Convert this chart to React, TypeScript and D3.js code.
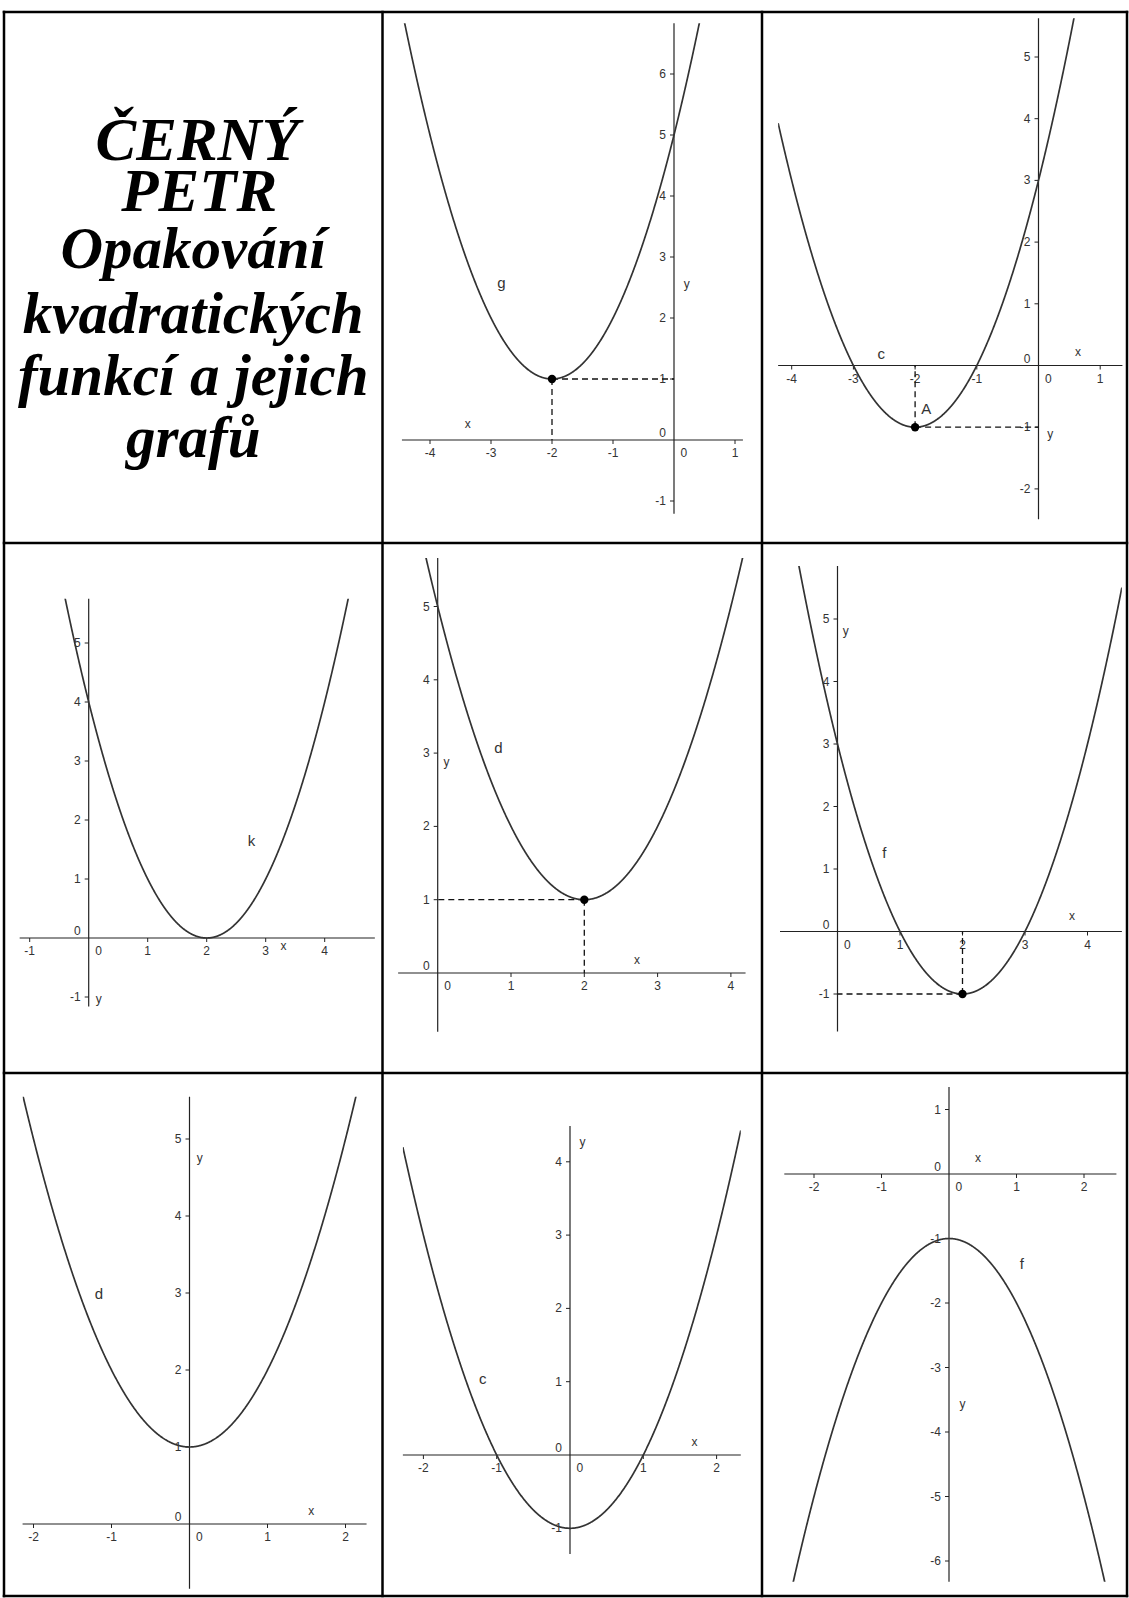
import React from 'react';
import * as d3 from 'd3';

// ---------- data ----------
const titleLines = ['ČERNÝ', 'PETR', 'Opakování', 'kvadratických', 'funkcí a jejich', 'grafů'];

// panels in reading order (row 1: cells 2,3; row 2; row 3)
const curveNames = ['g', 'c', 'k', 'd', 'f', 'd', 'c', 'f'];
const coefA = [1, 1, 1, 1, 1, 1, 1, -1];
const coefB = [4, 4, -4, -4, -4, 0, 0, 0];
const coefC = [5, 3, 4, 5, 3, 1, -1, -1];
const xTickValues = [
  [-4, -3, -2, -1, 1],
  [-4, -3, -2, -1, 1],
  [-1, 1, 2, 3, 4],
  [1, 2, 3, 4],
  [1, 2, 3, 4],
  [-2, -1, 1, 2],
  [-2, -1, 1, 2],
  [-2, -1, 1, 2],
];
const yTickValues = [
  [-1, 1, 2, 3, 4, 5, 6],
  [-2, -1, 1, 2, 3, 4, 5],
  [-1, 1, 2, 3, 4, 5],
  [1, 2, 3, 4, 5],
  [-1, 1, 2, 3, 4, 5],
  [1, 2, 3, 4, 5],
  [-1, 1, 2, 3, 4],
  [-6, -5, -4, -3, -2, -1, 1],
];
const vertexMarked = [true, true, false, true, true, false, false, false];
const pointNames = ['', 'A', '', '', '', '', '', ''];

// ---------- layout (pixels / view windows) ----------
const W = 1129;
const H = 1598;
const gridX = [4, 382.5, 762, 1127];
const gridY = [12, 543, 1073, 1596];
const titleBaselines = [160, 211, 268, 333, 395, 457];
const titleSizes = [61, 61, 59, 59, 59, 59];
const titleShift = [4, 6, 0, 0, 0, 0];

const layout = [
  { ox: 674, oy: 440, sx: 61, sy: 61, xmin: -4.46, xmax: 1.13, ymin: -1.21, ymax: 6.83,
    cl: [-2.83, 2.49], xl: [-3.38, 0.2], yl: [0.21, 2.49], pl: [0.13, 0.2] },
  { ox: 1038.5, oy: 365.5, sx: 61.7, sy: 61.7, xmin: -4.22, xmax: 1.36, ymin: -2.49, ymax: 5.63,
    cl: [-2.55, 0.1], xl: [0.64, 0.15], yl: [0.19, -1.17], pl: [0.1, 0.22] },
  { ox: 88.7, oy: 938, sx: 59, sy: 59, xmin: -1.17, xmax: 4.85, ymin: -1.16, ymax: 5.75,
    cl: [2.76, 1.56], xl: [3.3, -0.2], yl: [0.17, -1.1], pl: [0, 0] },
  { ox: 437.7, oy: 973, sx: 73.3, sy: 73.3, xmin: -0.54, xmax: 4.2, ymin: -0.8, ymax: 5.66,
    cl: [0.83, 3.0], xl: [2.72, 0.12], yl: [0.12, 2.83], pl: [0, 0] },
  { ox: 837.5, oy: 931.5, sx: 62.5, sy: 62.5, xmin: -0.92, xmax: 4.55, ymin: -1.6, ymax: 5.85,
    cl: [0.75, 1.18], xl: [3.75, 0.18], yl: [0.13, 4.75], pl: [0, 0] },
  { ox: 189.5, oy: 1524, sx: 78, sy: 77, xmin: -2.14, xmax: 2.27, ymin: -0.84, ymax: 5.55,
    cl: [-1.16, 2.92], xl: [1.56, 0.12], yl: [0.13, 4.7], pl: [0, 0] },
  { ox: 570, oy: 1455, sx: 73.3, sy: 73.3, xmin: -2.28, xmax: 2.33, ymin: -1.35, ymax: 4.49,
    cl: [-1.19, 0.97], xl: [1.7, 0.12], yl: [0.17, 4.22], pl: [0, 0] },
  { ox: 949, oy: 1174, sx: 67.5, sy: 64.5, xmin: -2.44, xmax: 2.48, ymin: -6.32, ymax: 1.35,
    cl: [1.08, -1.48], xl: [0.43, 0.19], yl: [0.2, -3.63], pl: [0, 0] },
];

const SANS = '"Liberation Sans", Arial, sans-serif';
const AXIS = '#222';
const TXT = '#333';

function Panel({ i }: { i: number }) {
  const L = layout[i];
  const x = d3.scaleLinear().domain([L.xmin, L.xmax]).range([L.ox + L.xmin * L.sx, L.ox + L.xmax * L.sx]);
  const y = d3.scaleLinear().domain([L.ymin, L.ymax]).range([L.oy - L.ymin * L.sy, L.oy - L.ymax * L.sy]);
  const f = (t: number) => coefA[i] * t * t + coefB[i] * t + coefC[i];
  const xs = d3.range(L.xmin, L.xmax + 1e-9, 0.005);
  const line = d3.line<number>().x((d) => x(d)).y((d) => y(f(d)));
  const clipId = `clip${i}`;
  const x0 = x(0);
  const y0 = y(0);
  const xv = -coefB[i] / (2 * coefA[i]);
  const yv = f(xv);
  return (
    <g>
      <defs>
        <clipPath id={clipId}>
          <rect x={x(L.xmin)} y={y(L.ymax)} width={x(L.xmax) - x(L.xmin)} height={y(L.ymin) - y(L.ymax)} />
        </clipPath>
      </defs>
      {/* axes */}
      <line x1={x(L.xmin)} x2={x(L.xmax)} y1={y0} y2={y0} stroke={AXIS} strokeWidth={1.2} />
      <line x1={x0} x2={x0} y1={y(L.ymin)} y2={y(L.ymax)} stroke={AXIS} strokeWidth={1.2} />
      {xTickValues[i].map((t) => (
        <g key={'xt' + t}>
          <line x1={x(t)} x2={x(t)} y1={y0} y2={y0 + 4} stroke={AXIS} strokeWidth={1} />
          <text x={x(t)} y={y0 + 17} textAnchor="middle" fontFamily={SANS} fontSize={12} fill={TXT}>
            {String(t)}
          </text>
        </g>
      ))}
      {yTickValues[i].map((t) => (
        <g key={'yt' + t}>
          <line x1={x0 - 4} x2={x0} y1={y(t)} y2={y(t)} stroke={AXIS} strokeWidth={1} />
          <text x={x0 - 8} y={y(t) + 4} textAnchor="end" fontFamily={SANS} fontSize={12} fill={TXT}>
            {String(t)}
          </text>
        </g>
      ))}
      <text x={x0 - 8} y={y0 - 3} textAnchor="end" fontFamily={SANS} fontSize={12} fill={TXT}>0</text>
      <text x={x0 + 6.5} y={y0 + 17} textAnchor="start" fontFamily={SANS} fontSize={12} fill={TXT}>0</text>
      {/* axis names */}
      <text x={x(L.xl[0])} y={y(L.xl[1])} textAnchor="middle" fontFamily={SANS} fontSize={12} fill={TXT}>x</text>
      <text x={x(L.yl[0])} y={y(L.yl[1])} textAnchor="middle" fontFamily={SANS} fontSize={12} fill={TXT}>y</text>
      {/* dashed guides */}
      {vertexMarked[i] && (
        <g stroke="#111" strokeWidth={1.3} strokeDasharray="6,4" fill="none">
          <line x1={x(xv)} x2={x(xv)} y1={y(yv)} y2={y0} />
          <line x1={x(xv)} x2={x0} y1={y(yv)} y2={y(yv)} />
        </g>
      )}
      {/* curve */}
      <path d={line(xs) || ''} fill="none" stroke="#333" strokeWidth={1.7} clipPath={`url(#${clipId})`} />
      <text x={x(L.cl[0])} y={y(L.cl[1])} textAnchor="middle" fontFamily={SANS} fontSize={15} fill={TXT}>
        {curveNames[i]}
      </text>
      {vertexMarked[i] && <circle cx={x(xv)} cy={y(yv)} r={4.2} fill="#000" />}
      {pointNames[i] && (
        <text x={x(xv + L.pl[0])} y={y(yv + L.pl[1])} fontFamily={SANS} fontSize={15} fill={TXT}>
          {pointNames[i]}
        </text>
      )}
    </g>
  );
}

export default function App() {
  return (
    <svg width={W} height={H} style={{ position: 'absolute', left: 0, top: 0, background: '#fff' }}>
      <rect x={0} y={0} width={W} height={H} fill="#fff" />
      {titleLines.map((t, k) => (
        <text
          key={t}
          x={(gridX[0] + gridX[1]) / 2 + titleShift[k]}
          y={titleBaselines[k]}
          textAnchor="middle"
          fontFamily='"Liberation Serif", "Times New Roman", serif'
          fontStyle="italic"
          fontWeight="bold"
          fontSize={titleSizes[k]}
          fill="#000"
        >
          {t}
        </text>
      ))}
      {layout.map((_, i) => (
        <Panel key={i} i={i} />
      ))}
      {gridX.map((gx) => (
        <line key={'gx' + gx} x1={gx} x2={gx} y1={gridY[0] - 1.25} y2={gridY[3] + 1.25} stroke="#000" strokeWidth={2.5} />
      ))}
      {gridY.map((gy) => (
        <line key={'gy' + gy} x1={gridX[0] - 1.25} x2={gridX[3] + 1.25} y1={gy} y2={gy} stroke="#000" strokeWidth={2.5} />
      ))}
    </svg>
  );
}
